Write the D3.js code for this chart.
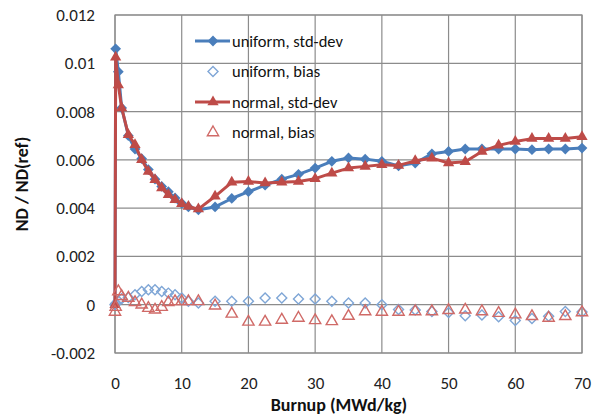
<!DOCTYPE html>
<html>
<head>
<meta charset="utf-8">
<script src="https://cdn.jsdelivr.net/npm/d3@7"></script>
<style>
  html, body { margin: 0; padding: 0; background: #fff; }
  svg { display: block; font-family: Carlito, Calibri, Lato, "Open Sans", sans-serif; }
</style>
</head>
<body>
<svg id="chart" width="597" height="418"></svg>
<script>
// Burnup steps (MWd/kg)
const burnup = [0, 0.1, 0.5, 1, 2, 3, 4, 5, 6, 7, 8, 9, 10, 11, 12.5,
  15, 17.5, 20, 22.5, 25, 27.5, 30, 32.5, 35, 37.5, 40, 42.5, 45, 47.5,
  50, 52.5, 55, 57.5, 60, 62.5, 65, 67.5, 70];

// Values in units of 1e-3
const uniformStd = [0, 10.6, 9.65, 8.15, 7.0, 6.45, 6.05, 5.6, 5.2, 4.9, 4.68, 4.42, 4.2, 4.05, 3.93,
  4.05, 4.4, 4.68, 4.95, 5.2, 5.4, 5.66, 5.94, 6.08, 6.03, 5.94, 5.75, 5.87, 6.25,
  6.35, 6.45, 6.45, 6.45, 6.45, 6.42, 6.45, 6.45, 6.49];
const uniformBias = [0, 0.05, 0.15, 0.25, 0.3, 0.41, 0.55, 0.62, 0.62, 0.55, 0.48, 0.41, 0.28, 0.14, 0.07,
  0.14, 0.14, 0.14, 0.28, 0.28, 0.24, 0.24, 0.14, 0.07, 0.07, 0, -0.2, -0.22, -0.28,
  -0.32, -0.46, -0.43, -0.5, -0.65, -0.57, -0.48, -0.28, -0.3];
const normalStd = [0, 10.25, 9.1, 8.15, 7.04, 6.63, 6.0, 5.52, 5.18, 4.83, 4.55, 4.35, 4.18, 4.07, 3.96,
  4.49, 5.07, 5.1, 5.04, 5.07, 5.1, 5.22, 5.45, 5.66, 5.73, 5.8, 5.77, 5.96, 6.07,
  5.87, 5.92, 6.35, 6.6, 6.76, 6.88, 6.88, 6.88, 6.96];
const normalBias = [-0.3, -0.1, 0.55, 0.35, 0.28, 0.1, 0, -0.14, -0.21, -0.1, 0.1, 0.14, 0.14, 0.14, 0.14,
  -0.04, -0.38, -0.71, -0.71, -0.63, -0.55, -0.65, -0.69, -0.47, -0.28, -0.3, -0.3, -0.28, -0.28,
  -0.23, -0.21, -0.28, -0.35, -0.41, -0.48, -0.55, -0.48, -0.32];

const xTicks = [0, 10, 20, 30, 40, 50, 60, 70];
const yTicks = [-0.002, 0, 0.002, 0.004, 0.006, 0.008, 0.01, 0.012];

const legendLabels = ["uniform, std-dev", "uniform, bias", "normal, std-dev", "normal, bias"];

const BLUE = "#4a7ebb";
const BLUE_LIGHT = "#7fa6d6";
const RED = "#be4b48";
const RED_LIGHT = "#d06a67";
const GRID = "#8c8c8c";

const svg = d3.select("#chart");
const plotL = 115, plotR = 582, plotT = 15, plotB = 353;

const x = d3.scaleLinear().domain([0, 70]).range([plotL, plotR]);
const y = d3.scaleLinear().domain([-0.002, 0.012]).range([plotB, plotT]);

// Gridlines
const grid = svg.append("g");
grid.selectAll("line.v").data(xTicks).join("line")
  .attr("x1", d => x(d)).attr("x2", d => x(d))
  .attr("y1", plotT).attr("y2", plotB)
  .attr("stroke", GRID).attr("stroke-width", 1.2);
grid.selectAll("line.h").data(yTicks).join("line")
  .attr("x1", plotL).attr("x2", plotR)
  .attr("y1", d => y(d)).attr("y2", d => y(d))
  .attr("stroke", GRID).attr("stroke-width", 1.2);
svg.append("rect")
  .attr("x", plotL).attr("y", plotT)
  .attr("width", plotR - plotL).attr("height", plotB - plotT)
  .attr("fill", "none").attr("stroke", GRID).attr("stroke-width", 1.2);

// Axes (labels only)
const fmt = d => d === 0 ? "0" : String(+d.toFixed(3));
const xAxis = svg.append("g").attr("transform", `translate(0,${plotB})`)
  .call(d3.axisBottom(x).tickValues(xTicks).tickSize(0).tickPadding(24).tickFormat(d => d));
const yAxis = svg.append("g").attr("transform", `translate(${plotL},0)`)
  .call(d3.axisLeft(y).tickValues(yTicks).tickSize(0).tickPadding(20).tickFormat(fmt));
[xAxis, yAxis].forEach(a => {
  a.select(".domain").remove();
  a.selectAll("text").attr("font-size", 17).attr("fill", "#222")
    .attr("font-family", "Carlito, Calibri, Lato, sans-serif");
});

// Axis titles
svg.append("text")
  .attr("x", 339).attr("y", 411)
  .attr("text-anchor", "middle")
  .attr("font-size", 18).attr("font-weight", "bold").attr("fill", "#111")
  .text("Burnup (MWd/kg)");
svg.append("text")
  .attr("transform", "translate(28,184) rotate(-90)")
  .attr("text-anchor", "middle")
  .attr("font-size", 18).attr("font-weight", "bold").attr("fill", "#111")
  .text("ND / ND(ref)");

const diamond = d3.symbol().type(d3.symbolSquare);
const triangle = d3.symbol().type(d3.symbolTriangle);
const unit = 0.001;

function seriesPoints(vals) {
  return burnup.map((b, i) => [b, vals[i] * unit]);
}

const line = d3.line().x(d => x(d[0])).y(d => y(d[1]));

function drawLineSeries(vals, color, shape, size, rot) {
  const pts = seriesPoints(vals);
  const g = svg.append("g");
  g.append("path").datum(pts)
    .attr("d", line).attr("fill", "none")
    .attr("stroke", color).attr("stroke-width", 3).attr("stroke-linejoin", "round");
  g.selectAll("path.m").data(pts).join("path").attr("class", "m")
    .attr("d", shape.size(size)())
    .attr("transform", d => `translate(${x(d[0])},${y(d[1])}) rotate(${rot})`)
    .attr("fill", color);
}

function drawMarkerSeries(vals, color, shape, size, rot) {
  const pts = seriesPoints(vals);
  svg.append("g").selectAll("path").data(pts).join("path")
    .attr("d", shape.size(size)())
    .attr("transform", d => `translate(${x(d[0])},${y(d[1])}) rotate(${rot})`)
    .attr("fill", "none").attr("stroke", color).attr("stroke-width", 1.4);
}

drawLineSeries(uniformStd, BLUE, diamond, 58, 45);
drawMarkerSeries(uniformBias, BLUE_LIGHT, diamond, 50, 45);
drawLineSeries(normalStd, RED, triangle, 55, 0);
drawMarkerSeries(normalBias, RED_LIGHT, triangle, 55, 0);

// Legend
const legend = svg.append("g");
const rowsY = [41, 71.5, 102, 132.5];
const lx1 = 195, lx2 = 230, lmid = 213;
// uniform std-dev
legend.append("line").attr("x1", lx1).attr("x2", lx2).attr("y1", rowsY[0]).attr("y2", rowsY[0])
  .attr("stroke", BLUE).attr("stroke-width", 3);
legend.append("path").attr("d", diamond.size(58)())
  .attr("transform", `translate(${lmid},${rowsY[0]}) rotate(45)`).attr("fill", BLUE);
// uniform bias
legend.append("path").attr("d", diamond.size(50)())
  .attr("transform", `translate(${lmid},${rowsY[1]}) rotate(45)`)
  .attr("fill", "none").attr("stroke", BLUE_LIGHT).attr("stroke-width", 1.4);
// normal std-dev
legend.append("line").attr("x1", lx1).attr("x2", lx2).attr("y1", rowsY[2]).attr("y2", rowsY[2])
  .attr("stroke", RED).attr("stroke-width", 3);
legend.append("path").attr("d", triangle.size(55)())
  .attr("transform", `translate(${lmid},${rowsY[2]})`).attr("fill", RED);
// normal bias
legend.append("path").attr("d", triangle.size(55)())
  .attr("transform", `translate(${lmid},${rowsY[3]})`)
  .attr("fill", "none").attr("stroke", RED_LIGHT).attr("stroke-width", 1.4);

legend.selectAll("text").data(legendLabels).join("text")
  .attr("x", 232).attr("y", (d, i) => rowsY[i])
  .attr("dy", "0.35em")
  .attr("font-size", 16.5).attr("fill", "#111")
  .text(d => d);
</script>
</body>
</html>
